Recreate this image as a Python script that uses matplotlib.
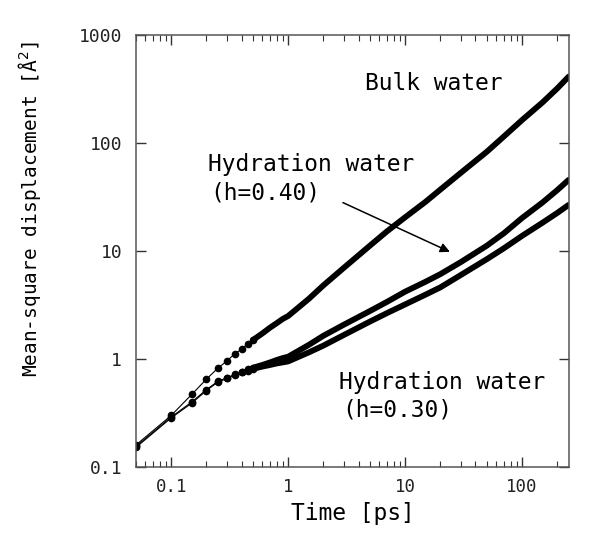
import numpy as np
import matplotlib
matplotlib.use('Agg')
import matplotlib.pyplot as plt
from matplotlib.ticker import FixedLocator, LogLocator, NullFormatter, NullLocator

plt.rcParams['font.family'] = ['DejaVu Sans Mono', 'DejaVu Sans']

# time points [ps]
time_ps = [0.05, 0.1, 0.15, 0.2, 0.25, 0.3, 0.35, 0.4, 0.45, 0.5,
           0.6, 0.7, 0.8, 0.9, 1.0, 1.5, 2, 3, 5, 7,
           10, 15, 20, 30, 50, 70, 100, 150, 200, 250]

# mean-square displacement [A^2]
msd_bulk = [0.16, 0.30, 0.47, 0.65, 0.82, 0.96, 1.12, 1.23, 1.38, 1.50,
            1.72, 1.95, 2.15, 2.35, 2.5, 3.6, 4.8, 7.0, 11.2, 15.2,
            20.5, 28.6, 37, 53, 83, 115, 163, 238, 320, 411]
msd_h040 = [0.155, 0.29, 0.40, 0.52, 0.62, 0.67, 0.72, 0.76, 0.80, 0.83,
            0.88, 0.93, 0.98, 1.02, 1.05, 1.35, 1.64, 2.08, 2.78, 3.38,
            4.2, 5.2, 6.1, 7.9, 11.2, 14.6, 20.2, 28.2, 36.6, 45.5]
msd_h030 = [0.152, 0.285, 0.39, 0.51, 0.61, 0.66, 0.71, 0.75, 0.78, 0.81,
            0.85, 0.88, 0.91, 0.93, 0.95, 1.15, 1.33, 1.67, 2.22, 2.66,
            3.2, 3.95, 4.6, 6.0, 8.4, 10.6, 13.8, 18.3, 22.5, 26.7]

ytick_vals = [0.1, 1, 10, 100, 1000]
ytick_labels = ['0.1', '1', '10', '100', '1000']
xtick_vals = [0.1, 1, 10, 100]
xtick_labels = ['0.1', '1', '10', '100']

fig = plt.figure(figsize=(5.93, 5.50), dpi=100)
ax = fig.add_axes([0.2293, 0.1509, 0.7302, 0.7855])

t = np.array(time_ps)
sparse = t <= 0.5
dense = t >= 0.5
for y in (msd_bulk, msd_h040, msd_h030):
    y = np.array(y)
    ax.plot(t, y, color='black', lw=0.8)
    ax.plot(t[sparse], y[sparse], 'o', color='black', ms=4.5)
    ax.plot(t[dense], y[dense], color='black', lw=4.2, solid_capstyle='round')

ax.set_xscale('log')
ax.set_yscale('log')
ax.set_xlim(0.05, 252)
ax.set_ylim(0.1, 1000)

ax.yaxis.set_major_locator(FixedLocator(ytick_vals))
ax.set_yticklabels(ytick_labels)
ax.yaxis.set_minor_locator(NullLocator())
ax.xaxis.set_major_locator(FixedLocator(xtick_vals))
ax.set_xticklabels(xtick_labels)
ax.xaxis.set_minor_locator(LogLocator(base=10, subs=np.arange(2, 10)))
ax.xaxis.set_minor_formatter(NullFormatter())

ax.tick_params(which='both', direction='in', top=True, right=True,
               colors='#333333', labelcolor='#222222')
ax.tick_params(axis='y', labelsize=13, pad=10)
ax.tick_params(axis='x', labelsize=12.5, pad=8)
ax.tick_params(which='major', length=7, width=1)
ax.tick_params(which='minor', length=4, width=0.8)
for s in ax.spines.values():
    s.set_color('#555555')
    s.set_linewidth(1.1)

ax.set_xlabel('Time [ps]', fontsize=16.5, labelpad=4)
ax.set_ylabel('Mean-square displacement [Å$^2$]', fontsize=14)
ax.yaxis.set_label_coords(-0.215, 0.597)

ax.text(0.53, 0.872, 'Bulk water', transform=ax.transAxes, fontsize=16.5)
ax.text(0.166, 0.685, 'Hydration water', transform=ax.transAxes, fontsize=16.5)
ax.text(0.172, 0.62, '(h=0.40)', transform=ax.transAxes, fontsize=16.5)
ax.text(0.47, 0.18, 'Hydration water', transform=ax.transAxes, fontsize=16.5)
ax.text(0.476, 0.117, '(h=0.30)', transform=ax.transAxes, fontsize=16.5)

ax.annotate('', xy=(0.725, 0.498), xytext=(0.478, 0.612),
            xycoords='axes fraction', textcoords='axes fraction',
            arrowprops=dict(arrowstyle='-|>', color='black', lw=1.1,
                            mutation_scale=14, shrinkA=0, shrinkB=0))

fig.savefig('out.png', dpi=100)
